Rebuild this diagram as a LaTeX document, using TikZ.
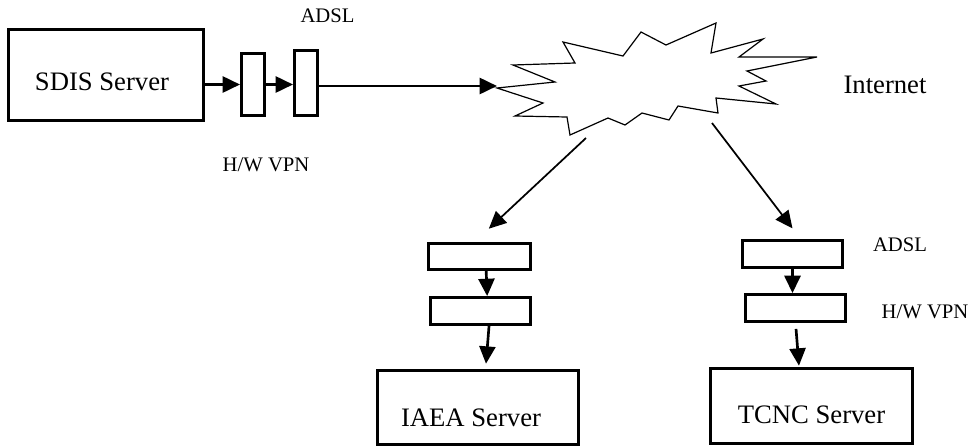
\documentclass[tikz,border=0pt]{standalone}
\usepackage{fontspec}
\setmainfont{Liberation Serif}
\usetikzlibrary{positioning,arrows.meta}

\begin{document}
\begin{tikzpicture}[x=0.75pt, y=-0.75pt, >={Triangle[length=13pt, width=12pt]},
    big/.style={font=\fontsize{20}{24}\selectfont},
    tag/.style={font=\fontsize{15.5}{18}\selectfont},
    box/.style={draw, line width=2.1pt, inner sep=0pt},
    modem/.style={box, minimum width=75pt, minimum height=20.3pt},
    plug/.style={box, minimum width=17.4pt},
    arr/.style={->, line width=2pt},
    link/.style={->, line width=1.3pt},
    cloud/.style={line width=0.9pt, line join=miter}]
    \useasboundingbox (0,0) rectangle (972,447);

    % Servers
    \node (sdis) [box, minimum width=146.4pt, minimum height=68.4pt,
        label={[big, xshift=-3pt, yshift=-5.25pt]center:SDIS Server}] at (106,75) {};
    \node (iaea) [box, minimum width=150.9pt, minimum height=55.6pt,
        label={[big, xshift=-5.25pt, yshift=-7.9pt]center:IAEA Server}] at (478,407.5) {};
    \node (tcnc) [box, minimum width=151.6pt, minimum height=56.4pt,
        label={[big, yshift=-6.75pt]center:TCNC Server}] at (811.5,406) {};

    % ADSL and VPN boxes
    \node (b1) [plug, minimum height=46.6pt] at (253,84.5) {};
    \node (b2) [plug, minimum height=48.9pt] at (306,83) {};
    \node (a1) [modem, minimum width=76.6pt, minimum height=19.6pt] at (479.5,256.5) {};
    \node (a2) [modem] at (480.5,311) {};
    \node (t1) [modem] at (792.5,254) {};
    \node (t2) [modem] at (795.5,308) {};

    % Internet
    \draw[cloud] (497,88) -- (555,82) -- (513,65) -- (575,63) -- (563,42)
        -- (623,56) -- (641,32) -- (666,45) -- (716,23) -- (711,53)
        -- (763,39) -- (739,57) -- (817,57) -- (747,71) -- (766,81)
        -- (739,86) -- (776,104) -- (716,98) -- (718,113) -- (678,106)
        -- (669,120) -- (642,113) -- (625,125) -- (608,118) -- (570,135)
        -- (567,117) -- (515,116) -- (543,103) -- cycle;
    \coordinate (cin) at (497,86);
    \coordinate (cl) at (586,138);
    \coordinate (cr) at (712,123);

    % Labels
    \node[tag] (adsl1) at (327.5,16) {ADSL};
    \node[tag] (vpn1) at (266,165) {H/W VPN};
    \node[big] (inet) at (885,85) {Internet};
    \node[tag] (adsl2) at (900,245) {ADSL};
    \node[tag] (vpn2) at (925,312) {H/W VPN};

    % Connections
    \draw[arr] (sdis.east |- b1.west) -- (b1.west);
    \draw[arr] (b1.east) -- (b2.west |- b1.east);
    \draw[arr] (b2.east |- cin) -- (cin);
    \draw[link] (cl) -- ([shift={(7pt,10pt)}]a1.north);
    \draw[link] (cr) -- ([yshift=8pt]t1.north);
    \draw[arr] ([xshift=5pt]a1.south) -- ([xshift=5pt]a2.north);
    \draw[arr] ([xshift=6.4pt]a2.south) -- ([shift={(6pt,4pt)}]iaea.north);
    \draw[arr] (t1.south) -- (t1.south |- t2.north);
    \draw[arr] ([shift={(0.4pt,-4.5pt)}]t2.south) -- ([shift={(-9.4pt,1pt)}]tcnc.north);
\end{tikzpicture}
\end{document}
